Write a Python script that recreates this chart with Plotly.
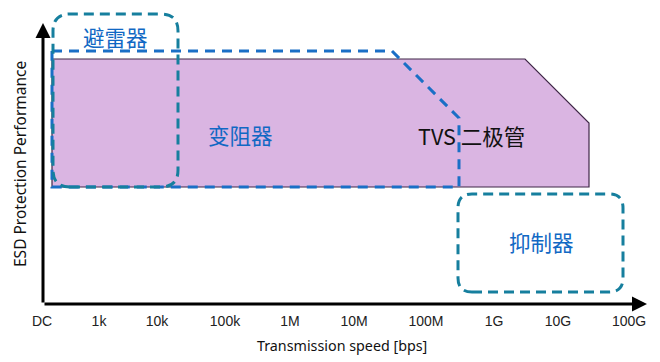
import plotly.graph_objects as go

# ---- data (axis units: 1 unit = 1 px from axis origin) ----
tick_labels = ["DC", "1k", "10k", "100k", "1M", "10M", "100M", "1G", "10G", "100G"]
tick_positions = [0, 57, 115, 183, 248, 312, 384, 452, 516, 587]

# TVS diode region (filled polygon)
tvs_x = [10, 483, 547, 547, 10, 10]
tvs_y = [245, 245, 181, 117, 117, 245]

# Varistor region (dashed outline)
varistor_x = [10, 350, 417, 417, 10, 10]
varistor_y = [253, 253, 186, 117, 117, 253]

# Rounded boxes: [x0, x1, y0, y1]
arrester_box = [11, 136, 117, 290]
suppressor_box = [416, 581, 12, 110]

labels = ["避雷器", "变阻器", "TVS 二极管", "抑制器"]
label_x = [73, 198, 429, 499]
label_y = [268, 170, 169, 63]
label_colors = ["#1168c4", "#1168c4", "#111111", "#1168c4"]

X_MAX, Y_MAX = 605, 294
ARROW_TOP = 281

BLUE = "#1a6fc6"
TEAL = "#167f9e"

PAGE_OFFSET = 8  # default body margin of the html page


def rounded_rect(x0, x1, y0, y1, r):
    return (f"M {x0+r},{y0} L {x1-r},{y0} Q {x1},{y0} {x1},{y0+r} "
            f"L {x1},{y1-r} Q {x1},{y1} {x1-r},{y1} "
            f"L {x0+r},{y1} Q {x0},{y1} {x0},{y1-r} "
            f"L {x0},{y0+r} Q {x0},{y0} {x0+r},{y0} Z")


fig = go.Figure()

fig.add_trace(go.Scatter(
    x=tvs_x, y=tvs_y, mode="lines", fill="toself",
    fillcolor="#dab5e2", line=dict(color="#3f2747", width=1.2),
    hoverinfo="skip", showlegend=False))

fig.add_trace(go.Scatter(
    x=varistor_x, y=varistor_y, mode="lines",
    line=dict(color=BLUE, width=3, dash="10px,7px"),
    hoverinfo="skip", showlegend=False))

shapes = []
for box, r in [(arrester_box, 17), (suppressor_box, 14)]:
    shapes.append(dict(type="path", xref="x", yref="y",
                       path=rounded_rect(box[0], box[1], box[2], box[3], r),
                       line=dict(color=TEAL, width=3, dash="10px,6px"),
                       fillcolor="rgba(0,0,0,0)", layer="above"))

annotations = []
for t, x, y, c in zip(labels, label_x, label_y, label_colors):
    annotations.append(dict(x=x, y=y, xref="x", yref="y", text=t, showarrow=False,
                            xanchor="center", yanchor="middle",
                            font=dict(family="Noto Sans CJK SC", size=21.5, color=c)))

# axis arrows
annotations.append(dict(x=1, y=ARROW_TOP, ax=1, ay=0, xref="x", yref="y", axref="x", ayref="y",
                        text="", showarrow=True, arrowhead=2, arrowsize=1, arrowwidth=3,
                        arrowcolor="#000000"))
annotations.append(dict(x=X_MAX, y=0, ax=1, ay=0, xref="x", yref="y", axref="x", ayref="y",
                        text="", showarrow=True, arrowhead=2, arrowsize=1, arrowwidth=3,
                        arrowcolor="#000000"))

W, H = 660 - PAGE_OFFSET, 362 - PAGE_OFFSET
L, R, T, B = 42 - PAGE_OFFSET, 13, 10 - PAGE_OFFSET, 58


# axis titles (placed in page pixel terms, converted to paper coords)
def px_to_paper(px, py):
    px -= PAGE_OFFSET
    py -= PAGE_OFFSET
    return (px - L) / (W - L - R), (H - B - py) / (H - T - B)


xt = px_to_paper(342, 345)
yt = px_to_paper(20, 164)
annotations.append(dict(x=xt[0], y=xt[1], xref="paper", yref="paper",
                        xanchor="center", yanchor="middle",
                        text="Transmission speed [bps]", showarrow=False,
                        font=dict(family="Noto Sans", size=14.3, color="#111111")))
annotations.append(dict(x=yt[0], y=yt[1], xref="paper", yref="paper",
                        xanchor="center", yanchor="middle",
                        text="ESD Protection Performance", showarrow=False, textangle=-90,
                        font=dict(family="Noto Sans", size=15.5, color="#111111")))

fig.update_layout(
    width=W, height=H,
    margin=dict(l=L, r=R, t=T, b=B, autoexpand=False),
    paper_bgcolor="white", plot_bgcolor="white",
    shapes=shapes, annotations=annotations,
    xaxis=dict(range=[0, X_MAX], showgrid=False, zeroline=False, showline=False,
               automargin=False, ticklabelstandoff=7,
               tickmode="array", tickvals=tick_positions, ticktext=tick_labels,
               ticks="", tickfont=dict(family="Liberation Sans", size=14, color="#222222"),
               fixedrange=True),
    yaxis=dict(range=[0, Y_MAX], showgrid=False, zeroline=False, showline=False,
               automargin=False, showticklabels=False, fixedrange=True),
)

fig.write_html("out.html")
